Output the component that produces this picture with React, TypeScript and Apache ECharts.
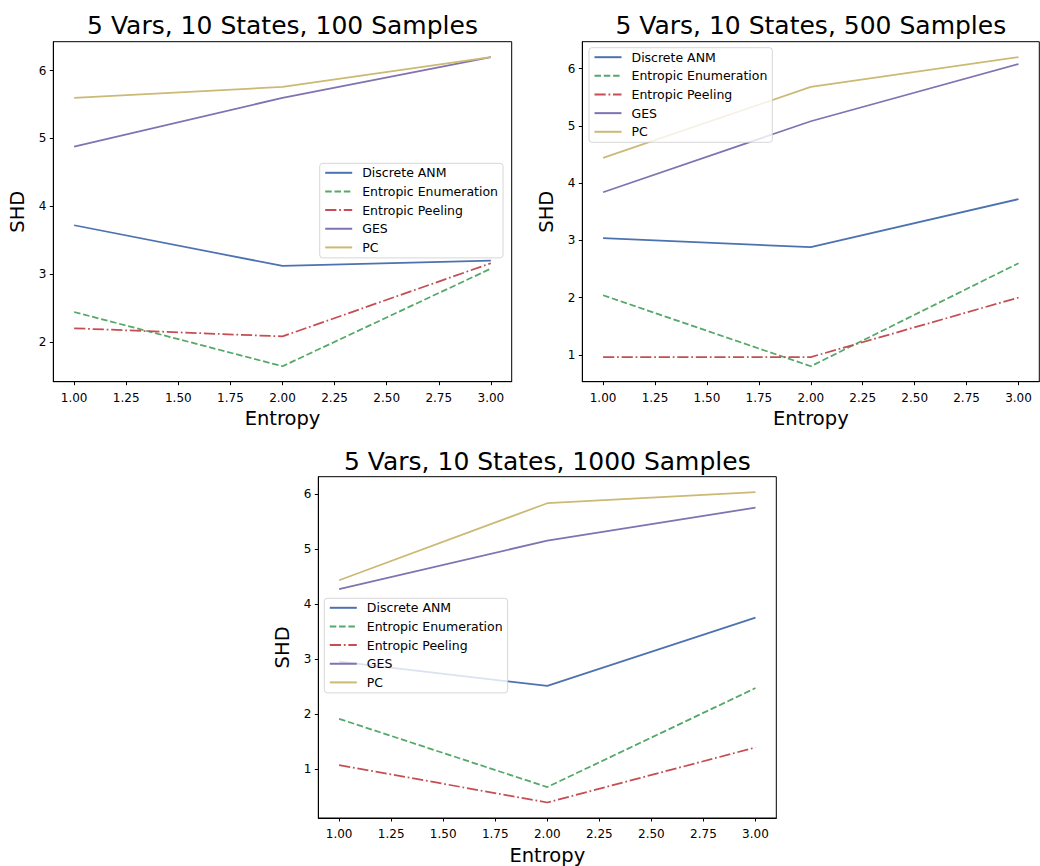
import React, { useEffect, useRef } from "react";
import * as echarts from "echarts";

const FONT = "DejaVu Sans";

const entropy = [1, 2, 3];
const xTicks = [1.0, 1.25, 1.5, 1.75, 2.0, 2.25, 2.5, 2.75, 3.0];
const yTicks100 = [2, 3, 4, 5, 6];
const yTicks500 = [1, 2, 3, 4, 5, 6];
const yTicks1000 = [1, 2, 3, 4, 5, 6];

const seriesNames = ["Discrete ANM", "Entropic Enumeration", "Entropic Peeling", "GES", "PC"];
const titles = [
  "5 Vars, 10 States, 100 Samples",
  "5 Vars, 10 States, 500 Samples",
  "5 Vars, 10 States, 1000 Samples",
];

// 100 samples
const anm100 = [3.72, 3.12, 3.2];
const enum100 = [2.44, 1.64, 3.08];
const peel100 = [2.2, 2.08, 3.16];
const ges100 = [4.88, 5.6, 6.2];
const pc100 = [5.6, 5.76, 6.2];

// 500 samples
const anm500 = [3.04, 2.88, 3.72];
const enum500 = [2.04, 0.8, 2.6];
const peel500 = [0.96, 0.96, 2.0];
const ges500 = [3.84, 5.08, 6.08];
const pc500 = [4.44, 5.68, 6.2];

// 1000 samples
const anm1000 = [2.96, 2.52, 3.76];
const enum1000 = [1.92, 0.68, 2.48];
const peel1000 = [1.08, 0.4, 1.4];
const ges1000 = [4.28, 5.16, 5.76];
const pc1000 = [4.44, 5.84, 6.04];

const colors = ["#4C72B0", "#55A868", "#C44E52", "#8172B2", "#CCB974"];
const dashes: any[] = ["solid", [6.5, 2.8], [11.2, 2.8, 1.75, 2.8], "solid", "solid"];

const panels = [
  { data: [anm100, enum100, peel100, ges100, pc100], yTicks: yTicks100,
    grid: { left: 53.3, top: 41.7, width: 458.4, height: 340 },
    legend: { left: 319.7, top: 163.3 }, titleY: 25 },
  { data: [anm500, enum500, peel500, ges500, pc500], yTicks: yTicks500,
    grid: { left: 582.3, top: 41.7, width: 457, height: 340 },
    legend: { left: 589, top: 47.7 }, titleY: 25 },
  { data: [anm1000, enum1000, peel1000, ges1000, pc1000], yTicks: yTicks1000,
    grid: { left: 318.3, top: 476.7, width: 458, height: 341.6 },
    legend: { left: 324.3, top: 598.3 }, titleY: 461 },
];

export default function App() {
  const ref = useRef<HTMLDivElement>(null);
  useEffect(() => {
    if (!ref.current) return;
    const chart = echarts.init(ref.current, null, { renderer: "svg" });
    const grids: any[] = [];
    const xAxes: any[] = [];
    const yAxes: any[] = [];
    const series: any[] = [];
    const legends: any[] = [];
    const graphics: any[] = [];
    panels.forEach((p, i) => {
      grids.push({ ...p.grid, show: true, borderColor: "#000", borderWidth: 1, containLabel: false });
      const all = p.data.flat();
      const lo = Math.min(...all);
      const hi = Math.max(...all);
      const m = (hi - lo) * 0.05;
      xAxes.push({
        type: "value", gridIndex: i, min: 0.9, max: 3.1,
        name: "Entropy", nameLocation: "middle", nameGap: 27,
        nameTextStyle: { fontFamily: FONT, fontSize: 19.5, color: "#000" },
        axisLine: { show: true, onZero: false, lineStyle: { color: "#000", width: 1 } },
        axisTick: { show: true, length: 3.5, customValues: xTicks, lineStyle: { color: "#000" } },
        axisLabel: { show: true, customValues: xTicks, margin: 10, fontFamily: FONT, fontSize: 12, color: "#000",
          formatter: (v: number) => v.toFixed(2) },
        splitLine: { show: false },
      });
      yAxes.push({
        type: "value", gridIndex: i, min: lo - m, max: hi + m,
        name: "SHD", nameLocation: "middle", nameGap: 26,
        nameTextStyle: { fontFamily: FONT, fontSize: 19.5, color: "#000" },
        axisLine: { show: true, onZero: false, lineStyle: { color: "#000", width: 1 } },
        axisTick: { show: true, length: 3.5, customValues: p.yTicks, lineStyle: { color: "#000" } },
        axisLabel: { show: true, customValues: p.yTicks, margin: 7, fontFamily: FONT, fontSize: 12, color: "#000",
          formatter: (v: number) => String(Math.round(v)) },
        splitLine: { show: false },
      });
      p.data.forEach((vals, k) => {
        series.push({
          type: "line", name: seriesNames[k], xAxisIndex: i, yAxisIndex: i,
          data: entropy.map((x, j) => [x, vals[j]]),
          symbol: "none", showSymbol: false,
          lineStyle: { color: colors[k], width: 1.75, type: dashes[k] },
          itemStyle: { color: colors[k] },
          color: colors[k],
        });
      });
      legends.push({
        show: true, orient: "vertical", left: p.legend.left, top: p.legend.top,
        data: seriesNames,
        itemWidth: 27, itemHeight: 14, itemGap: 5.65,
        padding: [3, 5, 4, 4.5],
        backgroundColor: "rgba(255,255,255,0.8)",
        borderColor: "rgba(204,204,204,0.8)", borderWidth: 1, borderRadius: 3,
        itemStyle: { opacity: 0 },
        textStyle: { fontFamily: FONT, fontSize: 12.5, color: "#000", padding: [0, 0, 0, 5] },
        selectedMode: false,
      });
      graphics.push({
        type: "text", x: p.grid.left + p.grid.width / 2, y: p.titleY,
        style: { text: titles[i], fontFamily: FONT, fontSize: 25, fill: "#000",
          textAlign: "center", textVerticalAlign: "middle" },
      });
    });
    chart.setOption({
      animation: false,
      backgroundColor: "#fff",
      grid: grids, xAxis: xAxes, yAxis: yAxes, series, legend: legends, graphic: graphics,
      tooltip: { show: false },
    });
    return () => chart.dispose();
  }, []);
  return <div ref={ref} style={{ position: "absolute", left: 0, top: 0, width: 1040, height: 866 }} />;
}
